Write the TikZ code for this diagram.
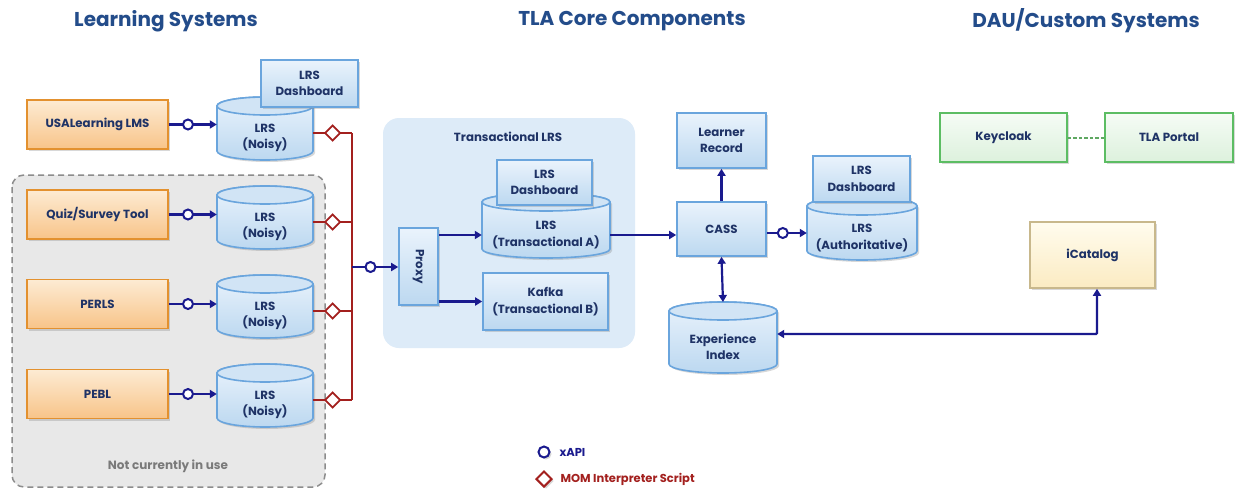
\documentclass[tikz,border=0pt]{standalone}
\usepackage{fontspec}
\setmainfont{Poppins}
\usetikzlibrary{arrows.meta,shadows,decorations.markings,shapes.geometric}
\definecolor{navy}{HTML}{1A1A8E}
\definecolor{momred}{HTML}{A3201E}
\definecolor{txt}{HTML}{1F3366}
\definecolor{ttl}{HTML}{234C8A}
\definecolor{obord}{HTML}{E3912F}
\definecolor{otop}{HTML}{FDEBD3}
\definecolor{obot}{HTML}{F8C489}
\definecolor{bbord}{HTML}{6AA5DD}
\definecolor{btop}{HTML}{EAF3FC}
\definecolor{bbot}{HTML}{BCD8F0}
\definecolor{gbord}{HTML}{5CBD63}
\definecolor{gtop}{HTML}{F5FCF5}
\definecolor{gbot}{HTML}{DDF1DD}
\definecolor{ybord}{HTML}{C8B88C}
\definecolor{ytop}{HTML}{FFFCEE}
\definecolor{ybot}{HTML}{FBEBC2}
\definecolor{panel}{HTML}{DDEBF8}
\definecolor{grayfill}{HTML}{E8E8E8}
\definecolor{graybord}{HTML}{8C8C8C}
\definecolor{graytxt}{HTML}{7A7A7A}
\definecolor{gdash}{HTML}{5FA862}
\tikzset{
  shad/.style={drop shadow={shadow xshift=2pt,shadow yshift=-2pt,opacity=0.3}},
  box/.style={rectangle, draw, line width=1.6pt, align=center, inner sep=2pt,
    font=\bfseries\fontsize{11.8}{16.5}\selectfont, text=txt, shad},
  obox/.style={box, draw=obord, top color=otop, bottom color=obot},
  bbox/.style={box, draw=bbord, top color=btop, bottom color=bbot},
  gbox/.style={box, draw=gbord, top color=gtop, bottom color=gbot},
  ybox/.style={box, draw=ybord, top color=ytop, bottom color=ybot},
  cylbody/.style={draw=bbord, line width=1.6pt, top color=btop, bottom color=bbot, shad},
  cyltop/.style={draw=bbord, line width=1.6pt, fill=bbot!55!btop},
  cyltext/.style={align=center, inner sep=0pt, font=\bfseries\fontsize{11.8}{16.5}\selectfont, text=txt},
  title/.style={font=\bfseries\fontsize{20}{24}\selectfont, text=ttl},
  nav/.style={draw=navy, line width=2.2pt, -{Triangle[length=7pt,width=8pt]}},
  xapi/.style={nav, postaction={decorate}, decoration={markings,
     mark=at position #1 with {\draw[navy, line width=2pt, fill=white] (0,0) circle (5);}}},
  xapi/.default=0.4,
  mom/.style={draw=momred, line width=2pt, postaction={decorate}, decoration={markings,
     mark=at position #1 with {\draw[momred, line width=1.8pt, fill=white] (-7.5,0)--(0,7.5)--(7.5,0)--(0,-7.5)--cycle;}}},
  mom/.default=0.5,
}
\def\cyE{9}
\newcommand{\cyl}[6]{% name, cx, top, w, h, text
  \pgfmathsetmacro\cyLx{#2-#4/2}\pgfmathsetmacro\cyRx{#2+#4/2}
  \pgfmathsetmacro\cyT{-#3-\cyE}\pgfmathsetmacro\cyB{-#3-#5+\cyE}
  \pgfmathsetmacro\cyRad{#4/2}
  \pgfmathsetmacro\cyMid{-#3-(#5+\cyE)/2}
  \path[cylbody] (\cyLx,\cyT) -- (\cyLx,\cyB) arc[start angle=180,end angle=360,x radius=\cyRad,y radius=\cyE]
     -- (\cyRx,\cyT) arc[start angle=0,end angle=180,x radius=\cyRad,y radius=\cyE] -- cycle;
  \draw[cyltop] (#2,\cyT) ellipse[x radius=\cyRad, y radius=\cyE];
  \node[minimum width=#4pt, minimum height={(#5-\cyE)*1pt}, inner sep=0pt] (#1) at (#2,\cyMid) {};
  \node[cyltext] (#1-t) at ([yshift=-5pt]#1.center) {#6};
  \coordinate (#1-top) at (#2,-#3);
}
\begin{document}
\begin{tikzpicture}[x=1pt,y=1pt]
\useasboundingbox[fill=white] (0,0) rectangle (1235,-490);
% titles
\node[title] (t1) at (166,-21) {Learning Systems};
\node[title] (t2) at (632,-21) {TLA Core Components};
\node[title] (t3) at (1086,-21) {DAU/Custom Systems};
% gray area
\path[draw=graybord, fill=grayfill, line width=1.5pt, dash pattern=on 6pt off 4pt, rounded corners=12pt] (12,-175) rectangle (325,-487);
\node[font=\bfseries\fontsize{12}{14}\selectfont, text=graytxt] (nciu) at (168,-466) {Not currently in use};
% transactional panel
\path[fill=panel, rounded corners=16pt] (383,-118) rectangle (635,-348);
\node[cyltext] (tlrs) at (508,-137) {Transactional LRS};
% left boxes
\node[obox, minimum width=141pt, minimum height=49pt] (usa) at (97.5,-124.5) {USALearning LMS};
\node[obox, minimum width=141pt, minimum height=49pt] (quiz) at (97.5,-214.5) {Quiz/Survey Tool};
\node[obox, minimum width=141pt, minimum height=49pt] (perls) at (97.5,-304) {PERLS};
\node[obox, minimum width=141pt, minimum height=49pt] (pebl) at (97.5,-394) {PEBL};
% left cylinders
\cyl{n1}{265}{97}{96}{63}{LRS\\(Noisy)}
\cyl{n2}{265}{186}{96}{63}{LRS\\(Noisy)}
\cyl{n3}{265}{275}{96}{63}{LRS\\(Noisy)}
\cyl{n4}{265}{364}{96}{63}{LRS\\(Noisy)}
\node[bbox, minimum width=97pt, minimum height=47pt] (d1) at (309.5,-83.5) {LRS\\Dashboard};
% core
\node[bbox, minimum width=39pt, minimum height=77pt] (proxy) at (418.5,-266.5) {\rotatebox{-90}{Proxy}};
\cyl{ta}{546}{193}{128}{65}{LRS\\(Transactional A)}
\node[bbox, minimum width=95pt, minimum height=45pt] (d2) at (544.5,-182.5) {LRS\\Dashboard};
\node[bbox, minimum width=125pt, minimum height=57pt] (kafka) at (545.5,-301.5) {Kafka\\(Transactional B)};
\node[bbox, minimum width=89pt, minimum height=55pt] (lr) at (721.5,-140.5) {Learner\\Record};
\node[bbox, minimum width=89pt, minimum height=54pt] (cass) at (721.5,-229) {CASS};
\cyl{auth}{862}{197}{110}{63}{LRS\\(Authoritative)}
\node[bbox, minimum width=97pt, minimum height=46pt] (d3) at (861.5,-179) {LRS\\Dashboard};
\cyl{ei}{723}{302}{108}{71}{Experience\\Index}
% right
\node[gbox, minimum width=127pt, minimum height=49pt] (kc) at (1003.5,-137.5) {Keycloak};
\node[gbox, minimum width=128pt, minimum height=49pt] (tla) at (1169,-137.5) {TLA Portal};
\node[ybox, minimum width=125pt, minimum height=66pt] (icat) at (1092.5,-255) {iCatalog};
% connectors left
\draw[xapi] (usa.east) -- (usa.east -| n1.west);
\draw[xapi] (quiz.east) -- (quiz.east -| n2.west);
\draw[xapi] (perls.east) -- (perls.east -| n3.west);
\draw[xapi] (pebl.east) -- (pebl.east -| n4.west);
\coordinate (bt) at (352,-133);
\coordinate (bp) at (352,-267);
\draw[mom] (n1.east) -- (n1.east -| bt);
\draw[mom] (n2.east) -- (n2.east -| bt);
\draw[mom] (n3.east) -- (n3.east -| bt);
\draw[mom] (n4.east) -- (n4.east -| bt);
\draw[draw=momred, line width=2pt] (n1.east -| bt) -- (n4.east -| bt);
\draw[xapi] (bp) -- (bp -| proxy.west);
% core connectors
\draw[nav] (proxy.east |- 0,-235) -- (ta.west |- 0,-235);
\draw[nav] (proxy.east |- kafka.west) -- (kafka.west);
\draw[nav] (ta.east |- 0,-235) -- (cass.west |- 0,-235);
\draw[xapi] (cass.east |- auth.west) -- (auth.west);
\draw[nav] (cass.north) -- (lr.south);
\draw[nav, {Triangle[length=7pt,width=8pt]}-{Triangle[length=7pt,width=8pt]}] (cass.south) -- (ei-top);
\coordinate (ic) at (1097,-334);
\draw[nav, {Triangle[length=7pt,width=8pt]}-{Triangle[length=7pt,width=8pt]}, rounded corners=1pt] (ei.east |- ic) -- (ic) -- (ic |- icat.south);
\draw[draw=gdash, line width=2pt, dash pattern=on 3.5pt off 2pt] (kc.east) -- (tla.west);
% legend
\node[circle, draw=navy, line width=2pt, fill=white, minimum size=11pt, inner sep=0pt, shad] (lc) at (544,-452) {};
\node[anchor=west, font=\bfseries\fontsize{11.5}{13}\selectfont, text=navy] (lct) at (556,-452) {xAPI};
\node[diamond, draw=momred, line width=2pt, fill=white, minimum size=16pt, inner sep=0pt, shad] (ld) at (544,-479) {};
\node[anchor=west, font=\bfseries\fontsize{11.5}{13}\selectfont, text=momred] (ldt) at (557,-479) {MOM Interpreter Script};
\end{tikzpicture}
\end{document}
